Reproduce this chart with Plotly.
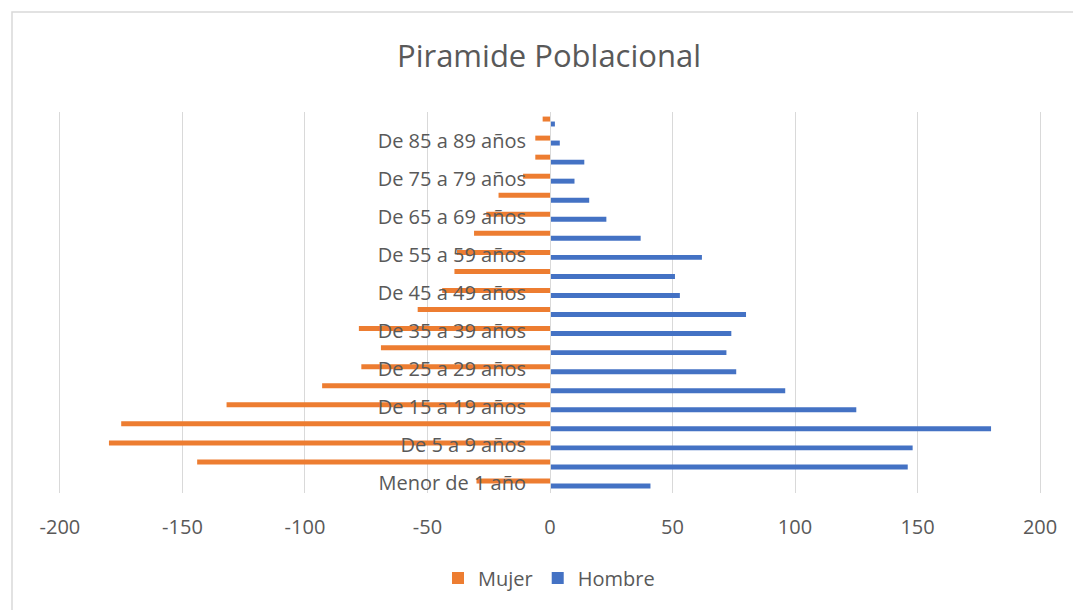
import plotly.graph_objects as go

categories = [
    "Menor de 1 año", "De 1 a 4 años", "De 5 a 9 años", "De 10 a 14 años",
    "De 15 a 19 años", "De 20 a 24 años", "De 25 a 29 años", "De 30 a 34 años",
    "De 35 a 39 años", "De 40 a 44 años", "De 45 a 49 años", "De 50 a 54 años",
    "De 55 a 59 años", "De 60 a 64 años", "De 65 a 69 años", "De 70 a 74 años",
    "De 75 a 79 años", "De 80 a 84 años", "De 85 a 89 años", "De 90 y más años",
]
mujer = [-30, -144, -180, -175, -132, -93, -77, -69, -78, -54,
         -44, -39, -38, -31, -26, -21, -11, -6, -6, -3]
hombre = [41, 146, 148, 180, 125, 96, 76, 72, 74, 80,
          53, 51, 62, 37, 23, 16, 10, 14, 4, 2]
x_ticks = [-200, -150, -100, -50, 0, 50, 100, 150, 200]
x_tick_labels = ["-200", "-150", "-100", "-50", "0", "50", "100", "150", "200"]
y_tick_labels = categories[::2]

ORANGE = "#ED7D31"
BLUE = "#4472C4"
TEXT = "#595959"
GRID = "#D9D9D9"
FONT = "Open Sans"

fig = go.Figure()
fig.add_trace(go.Bar(y=categories, x=hombre, orientation="h", name="Hombre",
                     marker=dict(color=BLUE, line=dict(width=0)), legendrank=2))
fig.add_trace(go.Bar(y=categories, x=mujer, orientation="h", name="Mujer",
                     marker=dict(color=ORANGE, line=dict(width=0)), legendrank=1))

W, H = 1073, 610
L, R, T, B = 57, 30, 112, 117
pw, ph = W - L - R, H - T - B

def px_x(px):
    return (px - L) / pw

def px_y(py):
    return (H - B - py) / ph

fig.update_layout(
    width=W, height=H,
    margin=dict(l=L, r=R, t=T, b=B, pad=0),
    paper_bgcolor="white", plot_bgcolor="white",
    barmode="group", bargap=0.48, bargroupgap=0,
    font=dict(family=FONT, color=TEXT),
    title=dict(text="Piramide Poblacional", x=px_x(549), xref="paper", xanchor="center",
               y=1 - 56 / H, yanchor="middle",
               font=dict(size=31, color=TEXT, family=FONT)),
    legend=dict(orientation="h", x=px_x(549), xanchor="center", y=px_y(578), yanchor="middle",
                font=dict(size=20, color=TEXT, family=FONT), itemwidth=30,
                bgcolor="rgba(0,0,0,0)"),
    showlegend=True,
    xaxis=dict(range=[-201.2, 201.2], tickmode="array", tickvals=x_ticks, ticktext=x_tick_labels,
               showgrid=True, gridcolor=GRID, gridwidth=1, zeroline=False,
               showline=False, ticks="outside", ticklen=16, tickcolor="rgba(0,0,0,0)",
               tickfont=dict(size=20, color=TEXT, family=FONT)),
    yaxis=dict(type="category", categoryorder="array", categoryarray=categories,
               tickmode="array", tickvals=y_tick_labels,
               anchor="free", position=0.5, showline=True, linecolor=GRID, linewidth=1,
               showgrid=False, zeroline=False,
               ticks="outside", ticklen=20, tickcolor="rgba(0,0,0,0)",
               tickfont=dict(size=20, color=TEXT, family=FONT)),
    shapes=[dict(type="rect", xref="paper", yref="paper",
                 x0=px_x(12), x1=px_x(1085), y0=px_y(620), y1=px_y(12),
                 line=dict(color=GRID, width=1.5), fillcolor="rgba(0,0,0,0)", layer="below")],
)

fig.write_html("out.html", config={"displayModeBar": False},
               post_script="document.body.style.margin='0';document.body.style.padding='0';")
